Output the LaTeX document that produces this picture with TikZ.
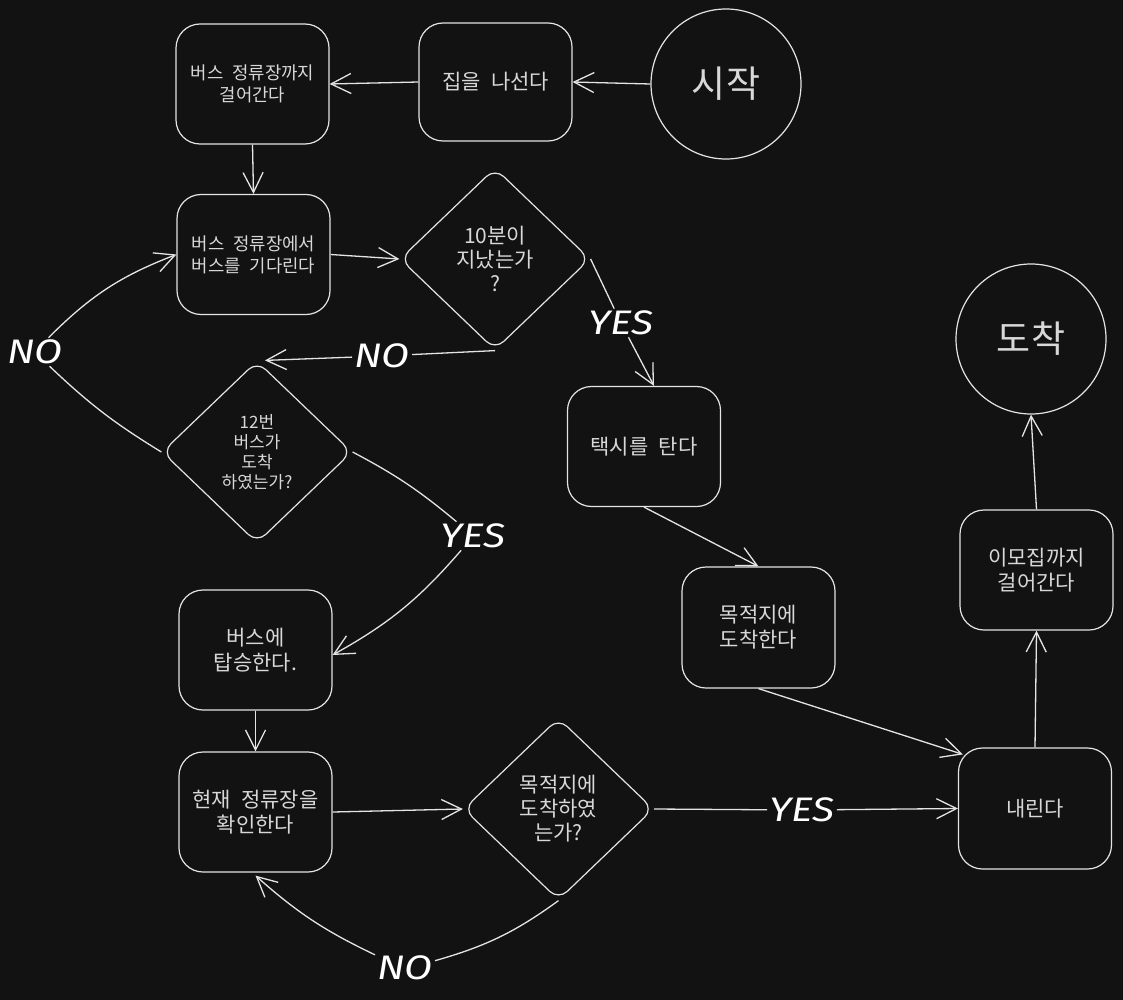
\documentclass[tikz,border=0pt]{standalone}
\usepackage{fontspec}
\newfontfamily\kr[WordSpace=2.2]{Noto Sans CJK KR}
\newfontfamily\hand{Fira Sans}
\usetikzlibrary{shapes.geometric,arrows.meta}
\definecolor{bg}{HTML}{121212}
\definecolor{ink}{HTML}{E4E4E4}
\definecolor{txt}{HTML}{D8D8D8}
\newcommand{\lbl}[1]{\scalebox{1.2}[1]{#1}}
\begin{document}
\begin{tikzpicture}[x=1pt,y=-1pt,
  box/.style={draw=ink, line width=1.2pt, rounded corners=24pt, minimum width=153pt, minimum height=120pt, inner sep=2pt, align=center, text=txt, font=\kr\fontsize{17.8}{22}\selectfont},
  bigbox/.style={box, font=\kr\fontsize{21}{25}\selectfont},
  dia/.style={draw=ink, line width=1.2pt, diamond, aspect=1, rounded corners=12pt, minimum width=190pt, minimum height=182pt, inner sep=0pt, align=center, text=txt, font=\kr\fontsize{21}{24}\selectfont},
  term/.style={draw=ink, line width=1.2pt, circle, minimum size=150pt, inner sep=0pt, text=txt, font=\kr\fontsize{37}{40}\selectfont},
  lab/.style={fill=bg, text=white, inner sep=2pt, font=\hand\itshape\fontsize{34}{34}\selectfont},
  con/.style={draw=ink, line width=1.3pt},
  arr/.style={con, -{Straight Barb[length=20pt,width=20pt,line width=1.3pt]}}
]
\fill[bg] (0,0) rectangle (1123,1000);
\useasboundingbox (0,0) rectangle (1123,1000);

\node[box] (b1) at (252.5,84) {버스 정류장까지\\걸어간다};
\node[bigbox, minimum height=118pt] (b2) at (495.5,82) {집을 나선다};
\node[term] (start) at (726,84) {시작};
\node[box] (b3) at (253.5,254.5) {버스 정류장에서\\버스를 기다린다};
\node[dia] (d1) at (495,259) {10분이\\지났는가\\?};
\node[dia, font=\kr\fontsize{17}{20}\selectfont] (d2) at (257,452) {12번\\버스가\\도착\\하였는가?};
\node[bigbox] (b4) at (644,446.5) {택시를 탄다};
\node[bigbox, minimum height=121pt] (b5) at (758.5,627.5) {목적지에\\도착한다};
\node[bigbox] (b6) at (255.5,650) {버스에\\탑승한다.};
\node[bigbox] (b7) at (255.5,812) {현재 정류장을\\확인한다};
\node[dia] (d3) at (558.5,809) {목적지에\\도착하였\\는가?};
\node[bigbox, minimum height=121pt] (b8) at (1035,808.5) {내린다};
\node[bigbox] (b9) at (1036.5,570) {이모집까지\\걸어간다};
\node[term] (finish) at (1031,339) {도착};

\node[lab] (yes1) at (621,323) {\lbl{YES}};
\node[lab] (no1) at (382,356) {\lbl{NO}};
\node[lab] (no2) at (35,352) {\lbl{NO}};
\node[lab] (yes2) at (473,536) {\lbl{YES}};
\node[lab] (yes3) at (802,810) {\lbl{YES}};
\node[lab] (no3) at (405,968) {\lbl{NO}};

\draw[arr] (start.west) -- (b2.east);
\draw[arr] (b2.west) -- (b1.east);
\draw[arr] (b1.south) -- (b3.north);
\draw[arr] (b3.east) -- (d1.west);
\draw[con] (d1.east) -- (yes1);
\draw[arr] (yes1) -- ([xshift=10pt]b4.north);
\draw[con] (d1.south) -- (no1);
\draw[arr] (no1) -- ([xshift=8pt]d2.north);
\draw[con] (d2.west) to[bend left=6] (no2);
\draw[arr] (no2) to[bend left=12] (b3.west);
\draw[con] (d2.east) to[bend left=6] (yes2);
\draw[arr] (yes2) to[bend left=10] ([yshift=-5pt]b6.east);
\draw[arr] (b6.south) -- (b7.north);
\draw[arr] (b7.east) -- (d3.west);
\draw[con] (d3.east) -- (yes3);
\draw[arr] (yes3) -- (b8.west);
\draw[con] (d3.south) to[bend left=10] (no3);
\draw[arr] (no3) to[bend left=8] ([yshift=-3pt]b7.south);
\draw[arr] (b4.south) -- (b5.north);
\draw[arr] (b5.south) -- ([xshift=5pt,yshift=-7pt]b8.north west);
\draw[arr] (b8.north) -- (b9.south);
\draw[arr] (b9.north) -- (finish.south);
\end{tikzpicture}
\end{document}
